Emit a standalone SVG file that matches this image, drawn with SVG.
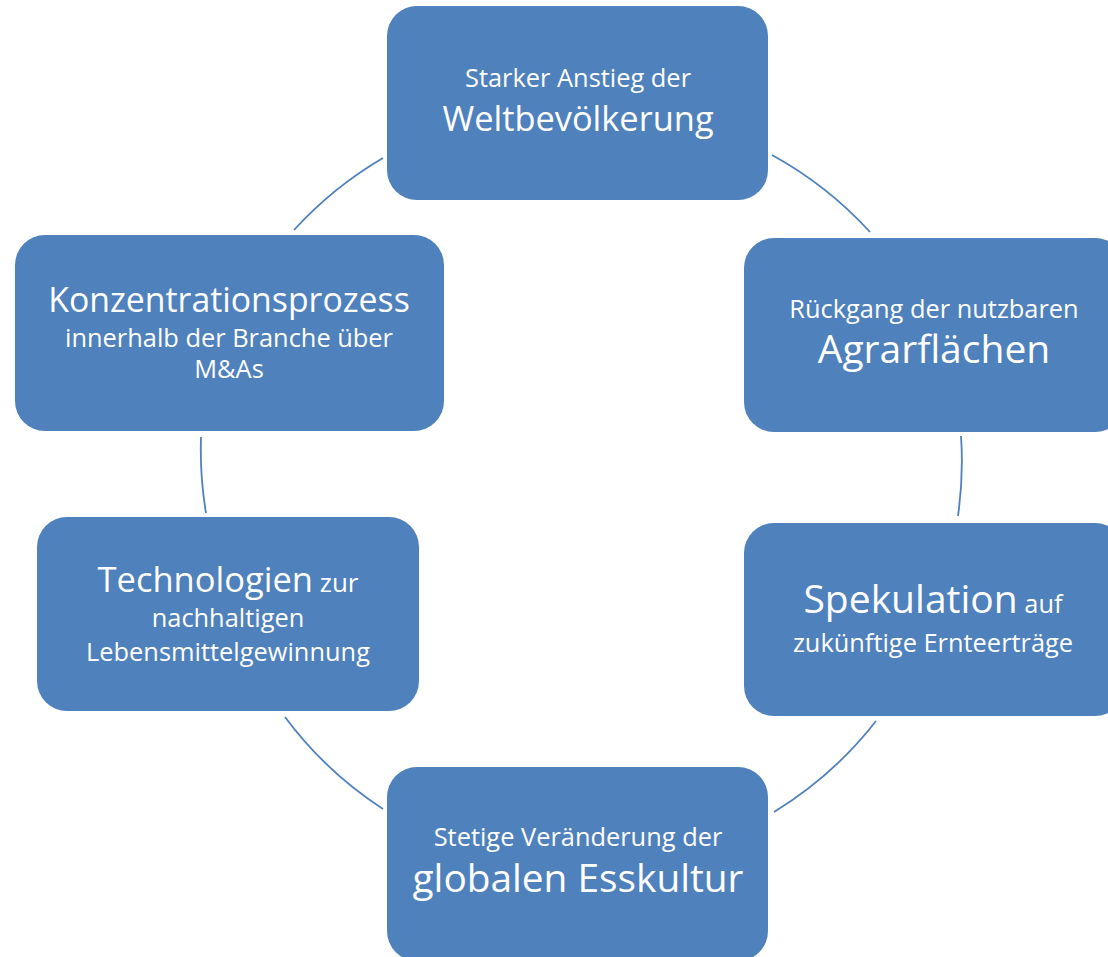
<svg xmlns="http://www.w3.org/2000/svg" width="1108" height="957" viewBox="0 0 1108 957">
<style>
.box{fill:#4F81BD;}
.t{font-family:"Open Sans","Noto Sans","Liberation Sans",sans-serif;fill:#FFFFFF;text-anchor:middle;}
.s{font-size:25.4px;}
.conn path{fill:none;stroke:#4F81BD;stroke-width:1.8;}
</style>
<rect width="1108" height="957" fill="#FFFFFF"/>
<g id="connectors" class="conn">
<path d="M294,230 A381,381 0 0 1 383,158"/>
<path d="M772,155 A381,381 0 0 1 870,232"/>
<path d="M961,436 A381,381 0 0 1 958,516"/>
<path d="M876,721 A381,381 0 0 1 774,812"/>
<path d="M383,809 A381,381 0 0 1 285,717"/>
<path d="M206,513 A381,381 0 0 1 201,437"/>
</g>
<g id="node-top">
<rect class="box" x="387" y="6" width="381" height="194" rx="30"/>
<text class="t s" x="578" y="87">Starker Anstieg der</text>
<text class="t" x="578" y="131" font-size="34.4">Weltbevölkerung</text>
</g>
<g id="node-right-top">
<rect class="box" x="744" y="238" width="381" height="194" rx="30"/>
<text class="t s" x="934" y="318">Rückgang der nutzbaren</text>
<text class="t" x="934" y="363" font-size="39">Agrarflächen</text>
</g>
<g id="node-right-bottom">
<rect class="box" x="744" y="523" width="381" height="193" rx="30"/>
<text class="t" x="933" y="613"><tspan font-size="39">Spekulation</tspan><tspan font-size="25.4"> auf</tspan></text>
<text class="t s" x="933" y="652">zukünftige Ernteerträge</text>
</g>
<g id="node-bottom">
<rect class="box" x="387" y="767" width="381" height="194" rx="30"/>
<text class="t s" x="578" y="846">Stetige Veränderung der</text>
<text class="t" x="578" y="892" font-size="38.8">globalen Esskultur</text>
</g>
<g id="node-left-bottom">
<rect class="box" x="37" y="517" width="382" height="194" rx="30"/>
<text class="t" x="228" y="592"><tspan font-size="34.5">Technologien</tspan><tspan font-size="26"> zur</tspan></text>
<text class="t s" x="228" y="627">nachhaltigen</text>
<text class="t s" x="228" y="661">Lebensmittelgewinnung</text>
</g>
<g id="node-left-top">
<rect class="box" x="15" y="235" width="429" height="196" rx="30"/>
<text class="t" x="229" y="312" font-size="33.8">Konzentrationsprozess</text>
<text class="t s" x="229" y="347">innerhalb der Branche über</text>
<text class="t s" x="229" y="378">M&amp;As</text>
</g>
</svg>
